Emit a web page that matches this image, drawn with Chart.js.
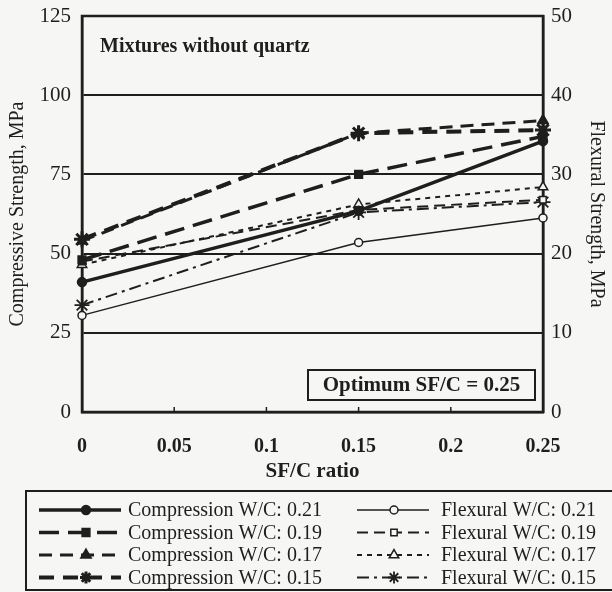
<!DOCTYPE html>
<html>
<head>
<meta charset="utf-8">
<script src="https://cdn.jsdelivr.net/npm/chart.js@4/dist/chart.umd.min.js"></script>
<style>
html,body{margin:0;padding:0;background:#f6f6f4;}
#wrap{width:612px;height:592px;position:relative;}
</style>
</head>
<body>
<div id="wrap"><canvas id="c" width="612" height="592"></canvas></div>
<script>
// ---- data ----
const sfcRatio = [0, 0.15, 0.25];
const xTicks = [0, 0.05, 0.1, 0.15, 0.2, 0.25];

// Compressive strength, MPa (left axis)
const compWC021 = [41, 63.5, 85.5];
const compWC019 = [48, 75, 87];
const compWC017 = [54, 88, 92];
const compWC015 = [54.5, 88, 89];

// Flexural strength, MPa (right axis)
const flexWC021 = [12.2, 21.4, 24.5];
const flexWC019 = [19, 25.5, 26.8];
const flexWC017 = [18.6, 26.2, 28.4];
const flexWC015 = [13.5, 25.2, 26.5];

const seriesLabels = [
  'Compression W/C: 0.21','Compression W/C: 0.19','Compression W/C: 0.17','Compression W/C: 0.15',
  'Flexural W/C: 0.21','Flexural W/C: 0.19','Flexural W/C: 0.17','Flexural W/C: 0.15'
];

const INK = '#1e1e1e';
const BG = '#f6f6f4';
const SERIF = "'Liberation Serif','Times New Roman',serif";

const pts = arr => arr.map((v, i) => ({x: sfcRatio[i], y: v}));

const styles = [
  {axis:'y',  dash:[],            w:3.5, ps:'circle',   r:4.5, fill:INK, bw:1.5},
  {axis:'y',  dash:[20,9],        w:3.5, ps:'rect',     r:5.5, fill:INK, bw:1.5},
  {axis:'y',  dash:[13,8],        w:3,   ps:'triangle', r:6,   fill:INK, bw:1.5},
  {axis:'y',  dash:[15,9],        w:4,   ps:'star',     r:8,   fill:INK, bw:3},
  {axis:'y2', dash:[],            w:1.5, ps:'circle',   r:4,   fill:BG,  bw:1.5},
  {axis:'y2', dash:[11,6],        w:2,   ps:'rect',     r:4.5, fill:BG,  bw:1.5},
  {axis:'y2', dash:[5,5],         w:2,   ps:'triangle', r:5.5, fill:BG,  bw:1.5},
  {axis:'y2', dash:[12,5,3,5],    w:2,   ps:'star',     r:7.5, fill:INK, bw:1.8}
];
const allData = [compWC021, compWC019, compWC017, compWC015, flexWC021, flexWC019, flexWC017, flexWC015];

const datasets = allData.map((d, i) => ({
  label: seriesLabels[i],
  data: pts(d),
  yAxisID: styles[i].axis,
  borderColor: INK,
  borderWidth: styles[i].w,
  borderDash: styles[i].dash,
  pointStyle: styles[i].ps,
  pointRadius: styles[i].r,
  pointBackgroundColor: styles[i].fill,
  pointBorderColor: INK,
  pointBorderWidth: styles[i].bw,
  tension: 0,
  fill: false,
  clip: false
}));

const decor = {
  id: 'decor',
  beforeDraw(chart) {
    const ctx = chart.ctx;
    ctx.save();
    ctx.fillStyle = BG;
    ctx.fillRect(0, 0, chart.width, chart.height);
    ctx.restore();
  },
  beforeDatasetsDraw(chart) {
    const ctx = chart.ctx;
    const a = chart.chartArea;
    ctx.save();
    ctx.strokeStyle = INK; ctx.lineWidth = 2.5; ctx.setLineDash([]);
    ctx.strokeRect(a.left, a.top, a.right - a.left, a.bottom - a.top);
    const xs = chart.scales.x;
    ctx.lineWidth = 1.5;
    xTicks.forEach(t => {
      const px = xs.getPixelForValue(t);
      ctx.beginPath(); ctx.moveTo(px, a.bottom); ctx.lineTo(px, a.bottom - 5); ctx.stroke();
    });
    ctx.fillStyle = INK;
    ctx.font = "bold 20px " + SERIF;
    ctx.textAlign = 'left'; ctx.textBaseline = 'middle';
    ctx.fillText('Mixtures without quartz', a.left + 18, 47);
    ctx.restore();
  },
  afterDraw(chart) {
    const ctx = chart.ctx;
    ctx.save();
    // optimum box
    ctx.font = "bold 21px " + SERIF;
    ctx.textBaseline = 'middle';
    const txt = 'Optimum SF/C = 0.25';
    const bx = 308, by = 370, bw = 227, bh = 30;
    ctx.fillStyle = BG; ctx.fillRect(bx, by, bw, bh);
    ctx.lineWidth = 2; ctx.strokeStyle = INK; ctx.strokeRect(bx, by, bw, bh);
    ctx.fillStyle = INK; ctx.textAlign = 'center';
    ctx.fillText(txt, bx + bw / 2, by + bh / 2 + 1);

    // legend
    const L = {x: 26, y: 491, w: 600, h: 99};
    ctx.lineWidth = 2; ctx.strokeRect(L.x, L.y, L.w, L.h);
    const rowY = [510, 532.5, 555, 577.5];
    const cols = [{x0: 39, x1: 121, mx: 86, tx: 128}, {x0: 357, x1: 429, mx: 394, tx: 441}];
    ctx.font = "20px " + SERIF;
    ctx.textAlign = 'left';
    for (let i = 0; i < 8; i++) {
      const c = cols[i < 4 ? 0 : 1];
      const y = rowY[i % 4];
      const s = styles[i];
      ctx.save();
      ctx.strokeStyle = INK; ctx.lineWidth = s.w; ctx.setLineDash(s.dash);
      ctx.beginPath(); ctx.moveTo(c.x0, y); ctx.lineTo(c.x1, y); ctx.stroke();
      ctx.setLineDash([]);
      ctx.fillStyle = s.fill; ctx.strokeStyle = INK; ctx.lineWidth = s.bw;
      Chart.helpers.drawPoint(ctx, {pointStyle: s.ps, rotation: 0, radius: Math.min(s.r, 6), borderWidth: s.bw}, c.mx, y);
      ctx.restore();
      ctx.fillStyle = INK;
      ctx.fillText(seriesLabels[i], c.tx, y + 1);
    }
    ctx.restore();
  }
};

const fixV = w => s => { s.width = w; s.paddingTop = 0; s.paddingBottom = 0; };

new Chart(document.getElementById('c'), {
  type: 'line',
  data: {datasets},
  options: {
    responsive: false,
    animation: false,
    devicePixelRatio: 1,
    layout: {padding: {top: 16, bottom: 106, left: 0, right: 0}},
    plugins: {legend: {display: false}, tooltip: {enabled: false}},
    scales: {
      x: {
        type: 'linear', min: 0, max: 0.25,
        afterBuildTicks: s => { s.ticks = xTicks.map(v => ({value: v})); },
        afterFit: s => { s.height = 74; s.paddingLeft = 0; s.paddingRight = 0; },
        grid: {display: false},
        border: {display: true, color: INK, width: 2.5},
        ticks: {color: INK, padding: 15, font: {family: SERIF, size: 20, weight: 'bold'},
          callback: v => String(v)},
        title: {display: true, text: 'SF/C ratio', color: INK, padding: {top: 0, bottom: 2},
          font: {family: SERIF, size: 21, weight: 'bold'}}
      },
      y: {
        position: 'left', min: 0, max: 125,
        afterFit: fixV(82),
        ticks: {stepSize: 25, color: INK, padding: 11, font: {family: SERIF, size: 21}},
        grid: {color: INK, lineWidth: 2, drawTicks: false},
        border: {display: true, color: INK, width: 2.5},
        title: {display: true, text: 'Compressive Strength, MPa', color: INK, padding: {top: 6, bottom: 0},
          font: {family: SERIF, size: 20}}
      },
      y2: {
        position: 'right', min: 0, max: 50,
        afterFit: fixV(69),
        ticks: {stepSize: 10, color: INK, padding: 8, font: {family: SERIF, size: 21}},
        grid: {display: false, drawTicks: false},
        border: {display: true, color: INK, width: 2.5},
        title: {display: true, text: 'Flexural Strength, MPa', color: INK, padding: {top: 4, bottom: 0},
          font: {family: SERIF, size: 20}}
      }
    }
  },
  plugins: [decor]
});
</script>
</body>
</html>
